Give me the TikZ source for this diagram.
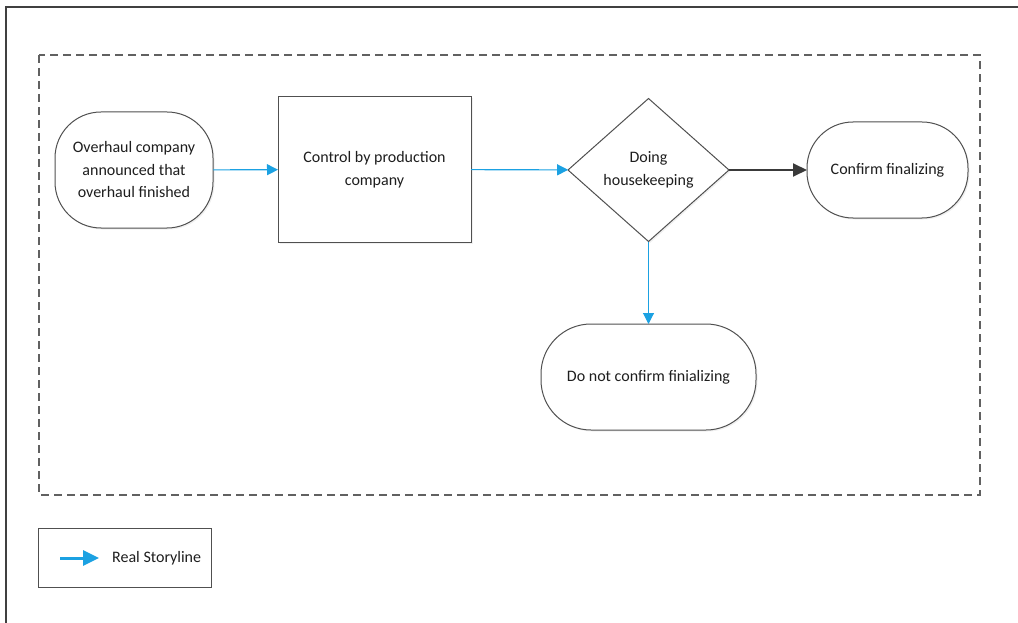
\documentclass[tikz,border=0pt]{standalone}
\usepackage{fontspec}
\setmainfont{Carlito}
\usetikzlibrary{shapes.geometric,arrows.meta,shadows}
\definecolor{flowblue}{HTML}{1BA1E2}
\definecolor{shapeline}{HTML}{505050}
\definecolor{darkarrow}{HTML}{3A3A3A}
\definecolor{txt}{HTML}{1E1E1E}
\tikzset{
  base/.style={draw=shapeline, line width=1pt, fill=white, align=center,
    text=txt, font=\fontsize{16}{22.5}\selectfont, inner sep=0pt, outer sep=0pt,
    drop shadow={opacity=0.12, shadow xshift=1.5pt, shadow yshift=-1.5pt}},
  terminal/.style={base, rounded corners=#1},
  process/.style={base},
  decision/.style={base, diamond},
  flow/.style={draw=flowblue, line width=1.1pt, -{Triangle[length=11pt,width=11pt]}},
  mainflow/.style={draw=darkarrow, line width=1.9pt, -{Triangle[length=14pt,width=13pt]}},
}
\begin{document}
\begin{tikzpicture}[x=1pt,y=-1pt]
\useasboundingbox (0,0) rectangle (1018,623);
% page frame
\draw[line width=1.3pt, color=black!75] (6,623) -- (6,7) -- (1018,7);
% dashed region
\draw[color=black!62, line width=1.2pt, dash pattern=on 8pt off 5pt] (39,55) rectangle (980,495);

% process steps
\node[terminal=46pt, minimum width=158pt, minimum height=116pt] (announce) at (134,170)
  {Overhaul company\\announced that\\overhaul finished};
\node[process, minimum width=193pt, minimum height=145pt] (control) at (374.5,169.5)
  {Control by production\\company};
\node[decision, aspect=1.126, minimum width=161pt, minimum height=143pt] (house) at (648.5,170)
  {Doing\\housekeeping};
\node[terminal=46pt, minimum width=161pt, minimum height=96pt] (confirm) at (887.5,170)
  {Confirm finalizing};
\node[terminal=50pt, minimum width=215pt, minimum height=106pt] (noconfirm) at (648.5,377)
  {Do not confirm finializing};

% connectors
\draw[flow] (announce) -- (control);
\draw[flow] (control) -- (house);
\draw[mainflow] (house) -- (confirm);
\draw[flow] (house) -- (noconfirm);

% legend
\node[draw=shapeline, line width=1pt, minimum width=173pt, minimum height=59pt, inner sep=0pt] (legend) at (124.5,557.5) {};
\coordinate (legA) at (60,558);
\coordinate (legB) at (99,558);
\draw[draw=flowblue, line width=3pt, -{Triangle[length=16pt,width=15pt]}] (legA) -- (legB);
\node[anchor=west, text=txt, font=\fontsize{16}{18}\selectfont, inner sep=0pt] (legtext) at (112,558) {Real Storyline};
\end{tikzpicture}
\end{document}
